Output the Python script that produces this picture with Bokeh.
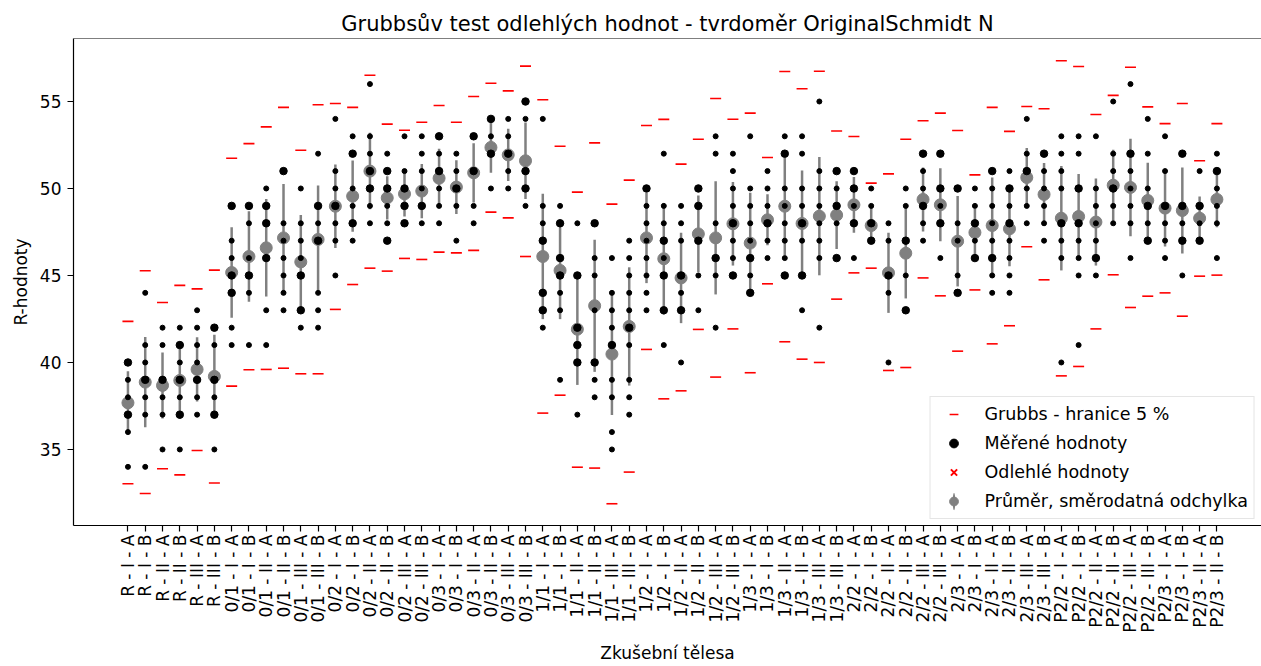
import math
from collections import Counter
from bokeh.plotting import figure
from bokeh.models import FixedTicker, Range1d, Legend, LegendItem, Span, ColumnDataSource
from bokeh.embed import file_html
from bokeh.resources import INLINE

categories = [
    "R - I - A", "R - I - B", "R - II - A", "R - II - B", "R - III - A", "R - III - B",
    "0/1 - I - A", "0/1 - I - B", "0/1 - II - A", "0/1 - II - B", "0/1 - III - A", "0/1 - III - B",
    "0/2 - I - A", "0/2 - I - B", "0/2 - II - A", "0/2 - II - B", "0/2 - III - A", "0/2 - III - B",
    "0/3 - I - A", "0/3 - I - B", "0/3 - II - A", "0/3 - II - B", "0/3 - III - A", "0/3 - III - B",
    "1/1 - I - A", "1/1 - I - B", "1/1 - II - A", "1/1 - II - B", "1/1 - III - A", "1/1 - III - B",
    "1/2 - I - A", "1/2 - I - B", "1/2 - II - A", "1/2 - II - B", "1/2 - III - A", "1/2 - III - B",
    "1/3 - I - A", "1/3 - I - B", "1/3 - II - A", "1/3 - II - B", "1/3 - III - A", "1/3 - III - B",
    "2/2 - I - A", "2/2 - I - B", "2/2 - II - A", "2/2 - II - B", "2/2 - III - A", "2/2 - III - B",
    "2/3 - I - A", "2/3 - I - B", "2/3 - II - A", "2/3 - II - B", "2/3 - III - A", "2/3 - III - B",
    "P2/2 - I - A", "P2/2 - I - B", "P2/2 - II - A", "P2/2 - II - B", "P2/2 - III - A", "P2/2 - III - B",
    "P2/3 - I - A", "P2/3 - I - B", "P2/3 - II - A", "P2/3 - II - B",
]

measured = [
    [40, 40, 39, 38, 37, 37, 36, 34],
    [44, 41, 40, 39, 39, 38, 37, 34],
    [42, 41, 39, 39, 38, 37, 35],
    [42, 41, 41, 40, 39, 39, 38, 37, 37, 35],
    [43, 42, 41, 40, 39, 39, 38, 37],
    [42, 42, 41, 39, 39, 38, 37, 37, 35],
    [49, 49, 47, 46, 45, 45, 44, 44, 42, 41],
    [49, 49, 48, 46, 45, 45, 44, 41],
    [50, 49, 49, 48, 48, 46, 46, 43, 41],
    [51, 51, 48, 47, 46, 45, 44, 43],
    [50, 48, 47, 46, 45, 45, 43, 43, 42],
    [52, 49, 49, 48, 47, 47, 44, 43, 42],
    [54, 51, 50, 49, 49, 48, 47, 45],
    [53, 52, 52, 50, 49, 48, 48, 47],
    [56, 53, 52, 51, 51, 50, 50, 49, 48],
    [52, 51, 51, 50, 50, 49, 48, 47, 47],
    [53, 51, 50, 50, 49, 49, 48, 48],
    [53, 52, 51, 50, 49, 49, 48],
    [53, 53, 52, 51, 51, 50, 49, 48],
    [52, 51, 50, 50, 49, 47],
    [53, 53, 51, 51, 49, 48],
    [54, 54, 53, 52, 52, 50],
    [54, 53, 52, 52, 51, 50],
    [55, 55, 54, 51, 51, 50, 50, 49],
    [54, 49, 48, 47, 47, 44, 44, 43, 43, 42],
    [49, 48, 48, 46, 46, 45, 45, 44, 43, 39],
    [48, 45, 45, 42, 42, 41, 41, 40, 40, 37],
    [48, 48, 46, 45, 43, 40, 40, 39, 38],
    [46, 44, 43, 42, 41, 41, 39, 38, 36, 35],
    [47, 46, 45, 44, 43, 42, 42, 41, 39, 38, 37],
    [50, 50, 49, 48, 47, 46, 45, 44, 43],
    [52, 49, 48, 47, 47, 46, 45, 45, 43, 43, 41],
    [49, 48, 47, 45, 45, 44, 43, 43, 40],
    [50, 50, 49, 49, 47, 47, 45, 43],
    [53, 52, 48, 46, 46, 45, 42],
    [52, 51, 50, 49, 48, 48, 47, 46, 45, 45],
    [53, 50, 49, 48, 47, 46, 46, 45, 44, 44],
    [51, 50, 49, 48, 48, 47, 46],
    [53, 52, 52, 50, 49, 48, 47, 46, 45, 45],
    [53, 52, 50, 49, 48, 48, 47, 45, 45, 43],
    [55, 51, 50, 49, 48, 47, 46, 42],
    [51, 51, 50, 49, 49, 48, 46, 46],
    [51, 51, 50, 50, 49, 48, 48, 46],
    [50, 49, 48, 48, 47, 47],
    [48, 47, 45, 45, 44, 40],
    [50, 49, 47, 47, 45, 43, 43],
    [52, 52, 51, 50, 49, 49, 48, 47],
    [52, 52, 50, 50, 49, 48, 48, 46],
    [50, 50, 48, 47, 45, 44, 44],
    [50, 49, 48, 48, 47, 46, 46],
    [51, 51, 50, 49, 48, 47, 46, 46, 45, 44],
    [51, 50, 50, 49, 48, 48, 47, 46, 45, 44],
    [54, 52, 51, 51, 50, 49, 48],
    [52, 52, 51, 50, 49, 48, 47],
    [53, 52, 51, 50, 48, 48, 47, 46, 40],
    [53, 52, 50, 50, 48, 48, 47, 46, 45, 41],
    [53, 50, 49, 48, 47, 46, 46, 45],
    [55, 52, 51, 50, 50, 49, 48],
    [56, 52, 52, 51, 50, 49, 48, 46],
    [54, 52, 50, 49, 49, 48, 47, 47],
    [53, 51, 49, 49, 48, 47, 46],
    [52, 52, 49, 49, 48, 47, 47, 45],
    [51, 49, 49, 48, 47, 47],
    [52, 51, 51, 50, 49, 48, 46],
]

means = [37.68, 38.87, 38.68, 38.97, 39.60, 39.20, 45.17, 46.09, 46.59, 47.16, 45.78, 47.07,
         48.98, 49.56, 51.00, 49.46, 49.69, 49.85, 50.59, 50.08, 50.90, 52.36, 51.93, 51.59,
         46.09, 45.29, 41.91, 43.26, 40.48, 42.07, 47.16, 45.96, 44.86, 47.39, 47.16, 47.97,
         46.86, 48.20, 48.98, 47.99, 48.41, 48.47, 49.06, 47.87, 45.15, 46.28, 49.37, 49.06,
         46.97, 47.47, 47.87, 47.68, 50.63, 49.66, 48.29, 48.39, 48.07, 50.19, 50.06, 49.31,
         48.87, 48.73, 48.29, 49.37]

stds = [1.82, 2.60, 1.90, 2.20, 1.85, 2.40, 2.60, 2.60, 2.80, 3.10, 2.70, 3.10,
        2.40, 2.05, 2.20, 1.25, 1.30, 1.56, 1.70, 1.54, 1.70, 1.46, 1.50, 2.20,
        3.60, 2.80, 3.20, 3.80, 3.50, 3.40, 2.60, 3.20, 2.60, 2.20, 3.25, 2.40,
        2.90, 1.47, 2.80, 3.05, 3.40, 1.95, 1.60, 1.05, 2.30, 2.60, 1.84, 2.10,
        2.60, 1.35, 2.76, 2.15, 1.70, 1.80, 3.00, 2.44, 2.50, 2.04, 2.80, 2.17,
        2.20, 2.47, 1.25, 1.60]

upper = [42.36, 45.27, 43.45, 44.43, 44.23, 45.31, 51.74, 52.58, 53.54, 54.66, 52.20, 54.81,
         54.88, 54.66, 56.51, 53.70, 53.35, 53.81, 54.77, 53.81, 55.29, 56.05, 55.61, 57.03,
         55.10, 52.43, 49.79, 52.62, 49.10, 50.48, 53.62, 53.97, 51.40, 52.83, 55.17, 53.98,
         54.33, 51.78, 56.72, 55.73, 56.74, 53.30, 52.99, 50.31, 50.84, 52.83, 53.89, 54.33,
         53.33, 50.78, 54.66, 53.28, 54.71, 54.58, 57.34, 57.01, 54.25, 55.35, 56.97, 54.69,
         53.73, 54.88, 51.59, 53.73]

lower = [33.03, 32.47, 33.89, 33.54, 34.94, 33.07, 38.64, 39.58, 39.60, 39.67, 39.35, 39.35,
         43.05, 44.48, 45.42, 45.25, 45.98, 45.92, 46.34, 46.30, 46.44, 48.64, 48.31, 46.09,
         37.09, 38.12, 33.98, 33.93, 31.88, 33.70, 40.75, 37.91, 38.37, 41.90, 39.16, 41.93,
         39.41, 44.52, 41.19, 40.19, 40.00, 43.64, 45.15, 45.42, 39.54, 39.71, 44.86, 43.83,
         40.65, 44.17, 41.07, 42.11, 46.65, 44.75, 39.23, 39.77, 41.93, 45.04, 43.16, 43.81,
         44.00, 42.66, 44.96, 45.02]

# no outliers were detected (NaN keeps the legend entry without drawing a mark)
outlier_x = [float("nan")]
outlier_y = [float("nan")]

y_ticks = [35, 40, 45, 50, 55]

FONT = "DejaVu Sans"
xs = list(range(len(categories)))

# measured points, marker size grows with number of identical readings
px, py, psize = [], [], []
for i, vals in enumerate(measured):
    for v, c in sorted(Counter(vals).items()):
        px.append(i)
        py.append(v)
        psize.append(5 if c == 1 else 7.5)
pts = ColumnDataSource(dict(x=px, y=py, size=psize))

p = figure(width=1261, height=666, output_backend="svg", toolbar_location=None,
           x_range=Range1d(-3.15, 65.58), y_range=Range1d(30.63, 58.62),
           min_border_left=73, min_border_right=0, min_border_top=38, min_border_bottom=141,
           title="Grubbsův test odlehlých hodnot - tvrdoměr OriginalSchmidt N")
p.title.text_font = FONT
p.title.text_font_size = "21px"
p.title.text_font_style = "normal"
p.title.text_color = "black"
p.title.align = "center"
p.title.standoff = 6
p.outline_line_color = None
p.xgrid.visible = False
p.ygrid.visible = False
p.background_fill_color = "white"
p.border_fill_color = "white"

p.segment(x0=xs, y0=[m - s for m, s in zip(means, stds)], x1=xs,
          y1=[m + s for m, s in zip(means, stds)], line_color="gray", line_width=2.5)
r_mean = p.scatter(xs, means, size=12, fill_color="gray", line_color="gray")
r_pts = p.scatter("x", "y", size="size", source=pts, fill_color="black", line_color="black")
r_bounds = p.scatter(xs + xs, upper + lower, marker="dash", size=11,
                     line_color="red", line_width=1.6)
r_out = p.scatter(outlier_x, outlier_y, marker="x", size=10, line_color="red", line_width=2)
# legend-only thin vertical shape for the error-bar entry (nothing drawn in the plot)
r_bar = p.ellipse(x=outlier_x, y=outlier_y, width=2.6, height=18,
                  width_units="screen", height_units="screen",
                  fill_color="gray", line_color=None)

p.add_layout(Span(location=58.62, dimension="width", line_color="black", line_width=1.2))

for ax in (p.xaxis[0], p.yaxis[0]):
    ax.axis_line_color = "black"
    ax.axis_line_width = 1.2
    ax.major_tick_line_color = "black"
    ax.major_tick_line_width = 1.2
    ax.major_tick_out = 6
    ax.major_tick_in = 0
    ax.minor_tick_line_color = None
    ax.major_label_text_font = FONT
    ax.major_label_text_font_size = "17px"
    ax.major_label_text_color = "black"
    ax.axis_label_text_font = FONT
    ax.axis_label_text_font_size = "17px"
    ax.axis_label_text_font_style = "normal"
    ax.axis_label_text_color = "black"

p.xaxis.ticker = FixedTicker(ticks=xs)
p.xaxis.major_label_overrides = {i: lab for i, lab in enumerate(categories)}
p.xaxis.major_label_orientation = math.pi / 2
p.xaxis.major_label_standoff = 3
p.xaxis.axis_label = "Zkušební tělesa"
p.xaxis.axis_label_standoff = 7

p.yaxis.ticker = FixedTicker(ticks=y_ticks)
p.yaxis.major_label_standoff = 6
p.yaxis.axis_label = "R-hodnoty"
p.yaxis.axis_label_standoff = 6

legend = Legend(items=[
    LegendItem(label="Grubbs - hranice 5 %", renderers=[r_bounds]),
    LegendItem(label="Měřené hodnoty", renderers=[r_pts]),
    LegendItem(label="Odlehlé hodnoty", renderers=[r_out]),
    LegendItem(label="Průměr, směrodatná odchylka", renderers=[r_bar, r_mean]),
], location="bottom_right")
legend.label_text_font = FONT
legend.label_text_font_size = "17.5px"
legend.label_text_color = "black"
legend.glyph_width = 34
legend.glyph_height = 22
legend.label_height = 22
legend.spacing = 7
legend.padding = 6
legend.margin = 6
legend.label_standoff = 14
legend.border_line_color = "#cccccc"
legend.background_fill_alpha = 0.8
p.add_layout(legend)

open("out.html", "w").write(file_html(p, INLINE))
